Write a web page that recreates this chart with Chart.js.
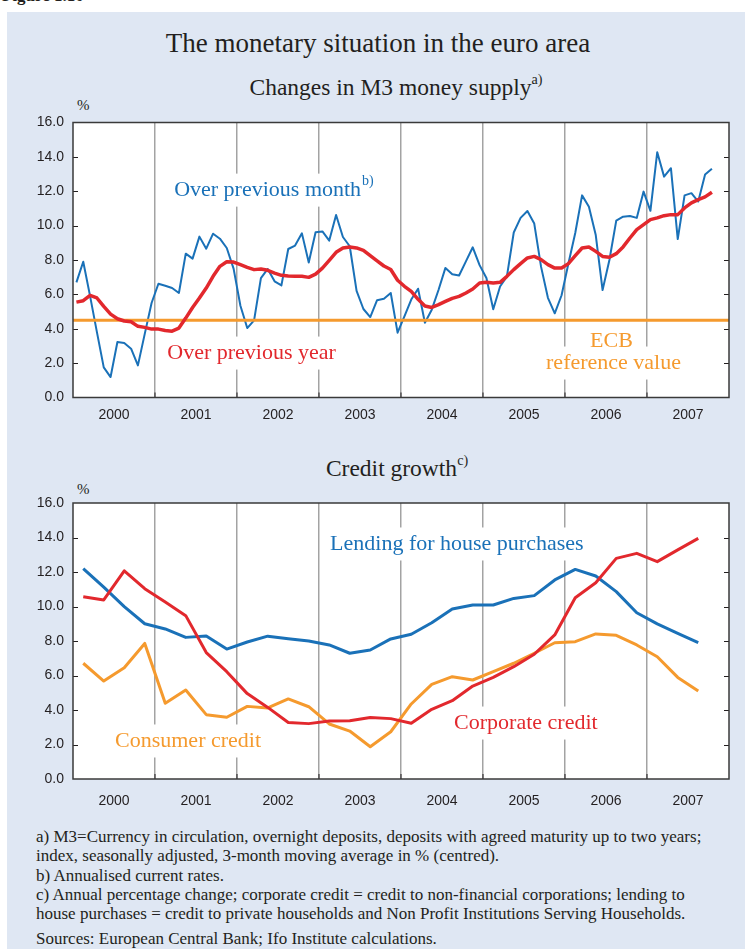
<!DOCTYPE html>
<html>
<head>
<meta charset="utf-8">
<script src="https://cdn.jsdelivr.net/npm/chart.js@4.4.0/dist/chart.umd.min.js"></script>
<style>
  body { margin: 0; width: 745px; height: 949px; background: #fff; position: relative; overflow: hidden;
         font-family: 'Liberation Serif', 'Times New Roman', serif; color: #231f20; }
  #panel { position: absolute; left: 7px; top: 12px; right: 0; bottom: 0; background: #dfe7f3; }
  .t { position: absolute; white-space: nowrap; line-height: 1; }
  .t sup { font-size: 60%; vertical-align: 0; position: relative; top: -0.75em; }
  .box { position: absolute; left: 0; }
  #notes { position: absolute; left: 36px; top: 827px; font-size: 17px; line-height: 19.3px; white-space: nowrap; }
</style>
</head>
<body>
<div class="t" style="left:2px; top:-13px; font-size:17px; font-weight:bold;">Figure 1.10</div>
<div id="panel"></div>

<div class="t" style="left:0; width:756px; text-align:center; top:30px; font-size:27px;">The monetary situation in the euro area</div>
<div class="t" style="left:0; width:792px; text-align:center; top:76px; font-size:23.5px;">Changes in M3 money supply<sup>a)</sup></div>
<div class="t" style="left:77px; top:98px; font-size:15px;">%</div>
<div class="box" style="top:100px;"><canvas id="m3" width="745" height="330"></canvas></div>

<div class="t" style="left:0; width:794px; text-align:center; top:457px; font-size:23.5px;">Credit growth<sup>c)</sup></div>
<div class="t" style="left:77px; top:482px; font-size:15px;">%</div>
<div class="box" style="top:480px;"><canvas id="credit" width="745" height="340"></canvas></div>

<div id="notes">
  a) M3=Currency in circulation, overnight deposits, deposits with agreed maturity up to two years;<br>
  index, seasonally adjusted, 3-month moving average in % (centred).<br>
  b) Annualised current rates.<br>
  c) Annual percentage change; corporate credit = credit to non-financial corporations; lending to<br>
  house purchases = credit to private households and Non Profit Institutions Serving Households.<br>
  <div style="margin-top:6px;">Sources: European Central Bank; Ifo Institute calculations.</div>
</div>

<script>
// Jahre auf der x-Achse
const YEARS = ['2000', '2001', '2002', '2003', '2004', '2005', '2006', '2007'];

// M3, monatlich Jan 2000 - Okt 2007
const M3_MONTH = [
  6.7, 7.9, 5.9, 3.8, 1.75, 1.19, 3.23, 3.17, 2.84, 1.87, 3.7, 5.5,
  6.62, 6.5, 6.37, 6.08, 8.37, 8.08, 9.36, 8.66, 9.53, 9.24, 8.7, 7.5,
  5.34, 4.04, 4.49, 6.95, 7.48, 6.76, 6.52, 8.64, 8.84, 9.55, 7.85, 9.61,
  9.66, 9.13, 10.62, 9.34, 8.8, 6.2, 5.15, 4.68, 5.66, 5.74, 6.08, 3.77,
  4.72, 5.7, 6.33, 4.35, 5.11, 6.27, 7.54, 7.17, 7.1, 7.92, 8.74, 7.7,
  6.95, 5.13, 6.46, 7.05, 9.6, 10.45, 10.85, 10.12, 7.6, 5.8, 4.9, 5.95,
  7.8, 9.57, 11.76, 11.1, 9.45, 6.25, 8.0, 10.29, 10.52, 10.56, 10.45, 11.98,
  10.86, 14.27, 12.85, 13.34, 9.22, 11.76, 11.89, 11.4, 12.97, 13.31
];
const M3_YEAR = [
  5.55, 5.63, 5.94, 5.79, 5.3, 4.85, 4.58, 4.45, 4.41, 4.14, 4.08, 3.98,
  3.98, 3.9, 3.86, 4.04, 4.62, 5.24, 5.79, 6.37, 7.05, 7.63, 7.9, 7.88,
  7.73, 7.57, 7.44, 7.48, 7.4, 7.24, 7.11, 7.07, 7.05, 7.05, 6.99, 7.18,
  7.53, 7.98, 8.45, 8.7, 8.76, 8.7, 8.56, 8.25, 7.95, 7.65, 7.45, 6.82,
  6.47, 6.17, 5.71, 5.32, 5.24, 5.4, 5.59, 5.77, 5.88, 6.08, 6.31, 6.66,
  6.7, 6.66, 6.7, 7.05, 7.44, 7.79, 8.12, 8.21, 8.02, 7.73, 7.53, 7.53,
  7.79, 8.25, 8.7, 8.76, 8.5, 8.21, 8.16, 8.37, 8.76, 9.28, 9.77, 10.06,
  10.35, 10.45, 10.58, 10.64, 10.64, 11.03, 11.32, 11.51, 11.67, 11.94
];
const ECB_REF = 4.5;

// Kredite, quartalsweise Q1 2000 - Q3 2007
const HOUSE = [
  12.2, 11.12, 9.99, 9.0, 8.7, 8.21, 8.29, 7.53, 7.94, 8.28, 8.13, 8.0,
  7.77, 7.29, 7.48, 8.12, 8.39, 9.06, 9.86, 10.09, 10.09, 10.47, 10.63, 11.54,
  12.15, 11.77, 10.86, 9.64, 8.99, 8.44, 7.9
];
const CORP = [
  10.57, 10.38, 12.07, 11.03, 10.26, 9.47, 7.33, 6.22, 4.95, 4.15, 3.28, 3.21,
  3.36, 3.38, 3.56, 3.5, 3.23, 4.04, 4.54, 5.39, 5.89, 6.51, 7.23, 8.35,
  10.51, 11.38, 12.79, 13.08, 12.6, 13.28, 13.95
];
const CONSUMER = [
  6.71, 5.68, 6.45, 7.86, 4.39, 5.16, 3.73, 3.58, 4.21, 4.12, 4.64, 4.19,
  3.19, 2.78, 1.87, 2.74, 4.35, 5.49, 5.93, 5.74, 6.22, 6.71, 7.29, 7.9,
  7.96, 8.41, 8.33, 7.77, 7.09, 5.89, 5.1
];

const BLUE = '#1a71b8';
const RED = '#e2282d';
const ORANGE = '#f59a2e';
const GRID = '#a3a3a3';
const INK = '#231f20';
const SERIF = '"Liberation Serif", "Times New Roman", serif';
const SANS = '"Liberation Sans", Arial, sans-serif';

// Rahmen, Innenstriche und Beschriftungen im Diagramm
const framePlugin = {
  id: 'frame',
  beforeDraw(chart) {
    const { ctx, chartArea: a } = chart;
    ctx.save();
    ctx.fillStyle = '#fff';
    ctx.fillRect(a.left, a.top, a.width, a.height);
    ctx.restore();
  },
  beforeDatasetsDraw(chart, args, opts) {
    const { ctx } = chart;
    ctx.save();
    ctx.fillStyle = '#fff';
    (opts.labels || []).forEach(l => {
      const b = labelBox(chart, l);
      ctx.fillRect(b.x - 4, b.y - l.size * 1.02, b.w + 8, l.size * 1.5);
    });
    ctx.restore();
  },
  afterDatasetsDraw(chart, args, opts) {
    const { ctx, chartArea: a, scales } = chart;
    ctx.save();
    ctx.strokeStyle = INK;
    ctx.lineWidth = 1;
    ctx.beginPath();
    scales.y.ticks.forEach(t => {
      if (t.value <= 0 || t.value >= 16) return;
      const y = Math.round(scales.y.getPixelForValue(t.value)) + 0.5;
      ctx.moveTo(a.left, y); ctx.lineTo(a.left + 5, y);
      ctx.moveTo(a.right - 5, y); ctx.lineTo(a.right, y);
    });
    for (let k = 1; k < YEARS.length; k++) {
      const x = scales.x.getPixelForValue(k * opts.perYear);
      ctx.moveTo(x, a.bottom); ctx.lineTo(x, a.bottom - 5);
    }
    ctx.stroke();
    ctx.strokeStyle = '#3a3a3a';
    ctx.lineWidth = 1.5;
    ctx.strokeRect(a.left, a.top, a.width, a.height);

    (opts.labels || []).forEach(l => {
      const b = labelBox(chart, l);
      ctx.fillStyle = l.color;
      ctx.font = `${l.size}px ${SERIF}`;
      ctx.textAlign = 'left';
      ctx.textBaseline = 'alphabetic';
      ctx.fillText(l.text, b.x, b.y);
      if (l.sup) {
        ctx.font = `${Math.round(l.size * 0.62)}px ${SERIF}`;
        ctx.fillText(l.sup, b.x + b.w + 1, b.y - l.size * 0.5);
      }
    });
    ctx.restore();
  }
};

function labelBox(chart, l) {
  const { ctx, scales } = chart;
  ctx.save();
  ctx.font = `${l.size}px ${SERIF}`;
  const w = ctx.measureText(l.text).width;
  ctx.restore();
  let x = scales.x.getPixelForValue(l.x);
  if (l.align === 'center') x -= w / 2;
  return { x, y: scales.y.getPixelForValue(l.y), w };
}

function makeChart(id, datasets, perYear, padTop, axisHeight, labelPad, labels) {
  return new Chart(document.getElementById(id), {
    type: 'line',
    data: { datasets },
    options: {
      responsive: false,
      devicePixelRatio: 1,
      animation: false,
      parsing: false,
      layout: { padding: { top: padTop, right: 16, left: 0, bottom: 0 } },
      elements: { point: { radius: 0 }, line: { tension: 0, borderJoinStyle: 'round', borderCapStyle: 'butt' } },
      plugins: {
        legend: { display: false },
        tooltip: { enabled: false },
        frame: { perYear, labels }
      },
      scales: {
        x: {
          type: 'linear',
          min: 0,
          max: YEARS.length * perYear,
          afterBuildTicks: s => {
            s.ticks = [];
            for (let k = 0; k <= YEARS.length * 2; k++) s.ticks.push({ value: k * perYear / 2 });
          },
          afterFit: s => { s.height = axisHeight; },
          border: { display: false },
          grid: {
            drawTicks: false,
            lineWidth: 1.5,
            color: c => (c.index > 0 && c.index < YEARS.length * 2 && c.index % 2 === 0) ? GRID : 'rgba(0,0,0,0)'
          },
          ticks: {
            autoSkip: false,
            maxRotation: 0,
            minRotation: 0,
            padding: labelPad,
            color: INK,
            font: { family: SANS, size: 14 },
            callback: (v, i) => (i % 2 === 1 ? YEARS[(i - 1) / 2] : '')
          }
        },
        y: {
          min: 0,
          max: 16,
          afterFit: s => { s.width = 73; },
          border: { display: false },
          grid: { drawOnChartArea: false, drawTicks: false },
          ticks: {
            stepSize: 2,
            padding: 9,
            color: INK,
            font: { family: SANS, size: 14 },
            callback: v => v.toFixed(1)
          }
        }
      }
    },
    plugins: [framePlugin]
  });
}

const monthPts = arr => arr.map((v, i) => ({ x: i + 0.5, y: v }));
const quarterPts = arr => arr.map((v, i) => ({ x: i + 0.5, y: v }));

makeChart('m3', [
  { data: monthPts(M3_YEAR), borderColor: RED, borderWidth: 3.5 },
  { data: [{ x: 0, y: ECB_REF }, { x: YEARS.length * 12, y: ECB_REF }], borderColor: ORANGE, borderWidth: 3 },
  { data: monthPts(M3_MONTH), borderColor: BLUE, borderWidth: 2 }
], 12, 22.5, 32.5, 9, [
  { text: 'Over previous month', sup: 'b)', x: 14.8, y: 11.72, size: 22, color: BLUE },
  { text: 'Over previous year', x: 13.8, y: 2.24, size: 22, color: RED },
  { text: 'ECB', x: 78.8, y: 2.94, size: 22, color: ORANGE, align: 'center' },
  { text: 'reference value', x: 79.1, y: 1.66, size: 22, color: ORANGE, align: 'center' }
]);

makeChart('credit', [
  { data: quarterPts(CORP), borderColor: RED, borderWidth: 3 },
  { data: quarterPts(CONSUMER), borderColor: ORANGE, borderWidth: 3 },
  { data: quarterPts(HOUSE), borderColor: BLUE, borderWidth: 3 }
], 4, 23, 41, 13.5, [
  { text: 'Lending for house purchases', x: 12.54, y: 13.28, size: 22, color: BLUE },
  { text: 'Consumer credit', x: 2.05, y: 1.86, size: 22, color: ORANGE },
  { text: 'Corporate credit', x: 18.59, y: 2.9, size: 22, color: RED }
]);
</script>
</body>
</html>
